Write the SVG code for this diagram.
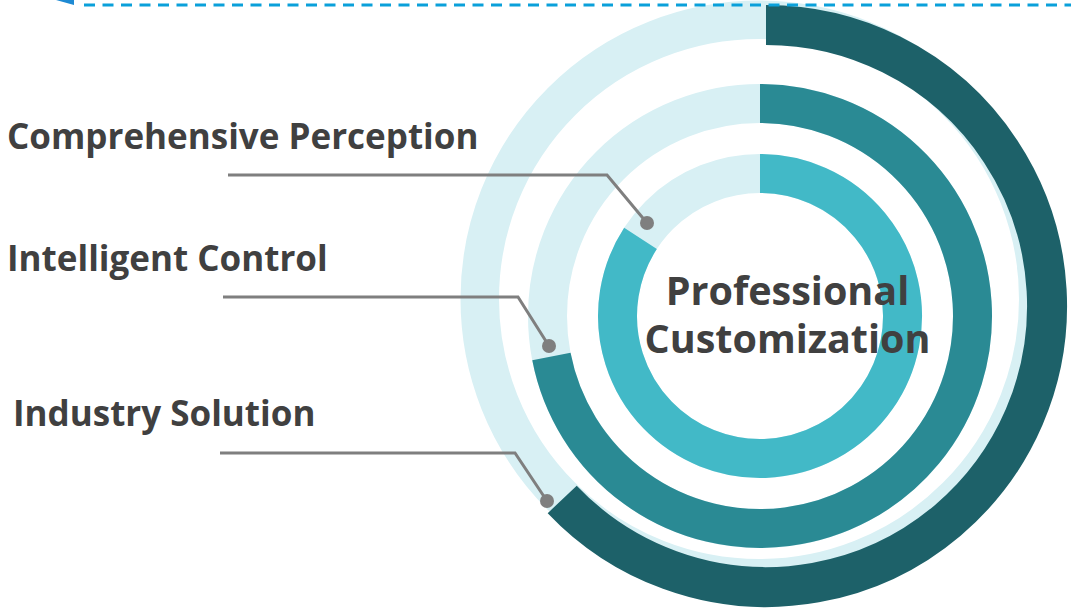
<svg xmlns="http://www.w3.org/2000/svg" width="1071" height="610" viewBox="0 0 1071 610">
<style>
  .track { fill: none; stroke: #D8F0F4; }
  .arc { fill: none; }
  .lead { fill: none; stroke: #7F7F7F; stroke-width: 3; stroke-linejoin: miter; }
  .dot { fill: #7F7F7F; }
  .lbl { font-family: "Open Sans", "Liberation Sans", sans-serif; font-weight: 700; font-size: 35px; fill: #404040; }
  .center { font-family: "Open Sans", "Liberation Sans", sans-serif; font-weight: 700; font-size: 39.5px; fill: #404040; text-anchor: middle; }
</style>
<rect width="1071" height="610" fill="#FFFFFF"/>
<g id="ring-outer">
  <circle class="track" cx="759" cy="299" r="279.25" stroke-width="38.5"/>
  <path class="arc" d="M766,25 A281,281 0 1 1 562.2,499.4" stroke="#1D6169" stroke-width="40"/>
</g>
<g id="ring-middle">
  <circle class="track" cx="760" cy="316" r="212.5" stroke-width="39"/>
  <path class="arc" d="M760,103.5 A212.5,212.5 0 1 1 551.4,356.5" stroke="#2A8A94" stroke-width="39"/>
</g>
<g id="ring-inner">
  <circle class="track" cx="760" cy="316" r="142.5" stroke-width="39"/>
  <path class="arc" d="M760,173.5 A142.5,142.5 0 1 1 640.5,238.4" stroke="#42B9C7" stroke-width="39"/>
</g>
<g id="center-label">
  <text class="center" x="787.5" y="305">Professional</text>
  <text class="center" x="787.5" y="353">Customization</text>
</g>
<g id="connectors">
  <polyline class="lead" points="228,175 607,175 647,223"/>
  <circle class="dot" cx="647" cy="223" r="7"/>
  <polyline class="lead" points="223,297 518,297 549,346"/>
  <circle class="dot" cx="549" cy="346" r="7"/>
  <polyline class="lead" points="220,453 515,453 547,501"/>
  <circle class="dot" cx="547" cy="501" r="7"/>
</g>
<g id="label-perception">
  <text class="lbl" x="7" y="149">Comprehensive Perception</text>
</g>
<g id="label-control">
  <text class="lbl" x="7" y="271">Intelligent Control</text>
</g>
<g id="label-solution">
  <text class="lbl" x="13" y="426">Industry Solution</text>
</g>
<g id="top-dashed">
  <line x1="84" y1="5" x2="1071" y2="5" stroke="#0AA0DA" stroke-width="3" stroke-dasharray="11 7.5"/>
  <polygon points="56,0 74,0 74,5" fill="#1E8AD3"/>
</g>
</svg>
